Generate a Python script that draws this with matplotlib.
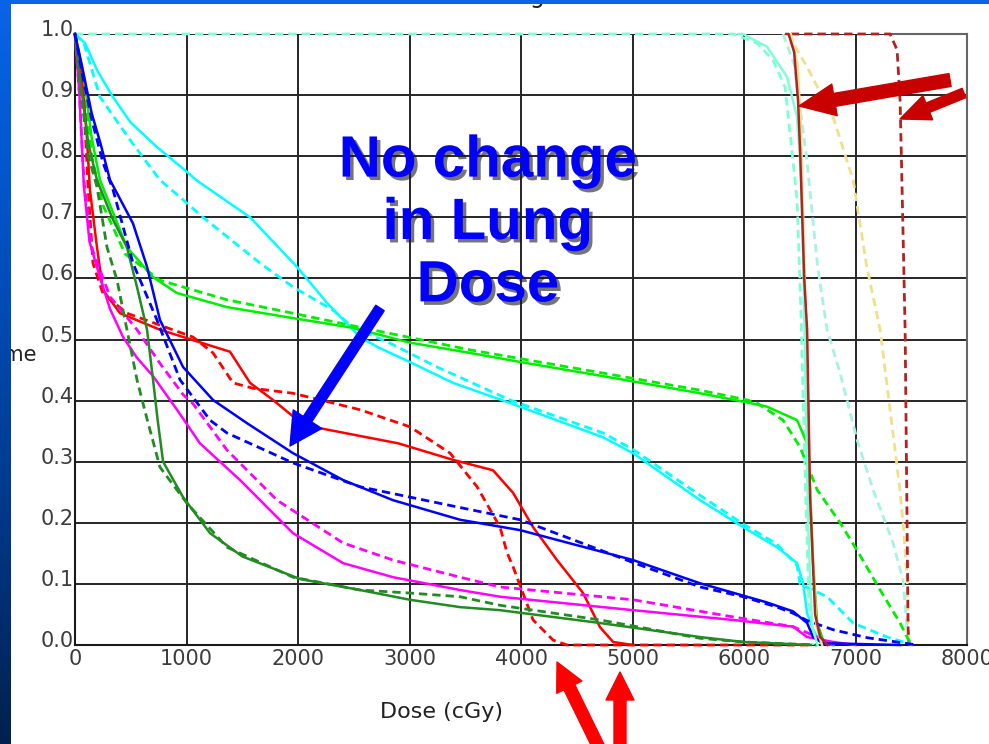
import numpy as np
import matplotlib
matplotlib.use("Agg")
import matplotlib.pyplot as plt
import matplotlib.patheffects as pe
from matplotlib.patches import Rectangle, FancyArrowPatch
from matplotlib.colors import LinearSegmentedColormap
from matplotlib.transforms import ScaledTranslation

W, H = 989, 744

# axes ticks
dose_ticks = [0, 1000, 2000, 3000, 4000, 5000, 6000, 7000, 8000]
vol_ticks = [0.0, 0.1, 0.2, 0.3, 0.4, 0.5, 0.6, 0.7, 0.8, 0.9, 1.0]
vol_labels = ["0.0", "0.1", "0.2", "0.3", "0.4", "0.5", "0.6", "0.7", "0.8", "0.9", "1.0"]

# cumulative DVH curves (dose in cGy, fractional volume); solid = plan 1, dashed = plan 2
cyan_solid_dose = [0, 90, 200, 340, 500, 735, 1000, 1094, 1570, 1990, 2260, 2556, 2709, 3005, 3391, 3902,
                   4736, 5005, 5606, 5992, 6297, 6476, 6530, 6566, 6620, 6683, 6800]
cyan_solid_vol = [1.0, 0.985, 0.94, 0.897, 0.855, 0.815, 0.775, 0.76, 0.70, 0.619, 0.56, 0.504, 0.488, 0.463,
                  0.429, 0.396, 0.34, 0.314, 0.237, 0.193, 0.16, 0.134, 0.101, 0.052, 0.025, 0.005, 0.0]
cyan_dash_dose = [0, 80, 224, 500, 762, 942, 1148, 1660, 1955, 2314, 2494, 2825, 3247, 3902, 4736, 5005,
                  5606, 5992, 6297, 6476, 6503, 6745, 6979, 7284, 7517]
cyan_dash_vol = [1.0, 0.985, 0.897, 0.825, 0.761, 0.733, 0.70, 0.625, 0.586, 0.548, 0.52, 0.494, 0.455,
                 0.401, 0.347, 0.32, 0.245, 0.198, 0.165, 0.13, 0.10, 0.079, 0.036, 0.013, 0.0]

lime_solid_dose = [0, 80, 150, 224, 466, 700, 915, 1363, 1955, 2494, 3000, 3543, 4000, 4736, 5606, 6028,
                   6207, 6476, 6566, 6593, 6620, 6656, 6710, 6800]
lime_solid_vol = [1.0, 0.93, 0.83, 0.761, 0.651, 0.602, 0.576, 0.553, 0.535, 0.519, 0.495, 0.478, 0.463,
                  0.44, 0.412, 0.397, 0.39, 0.368, 0.33, 0.254, 0.134, 0.036, 0.008, 0.0]
lime_dash_dose = [0, 80, 150, 250, 450, 762, 1363, 1955, 2556, 3543, 4736, 5606, 6028, 6117, 6350, 6503,
                  6656, 6862, 7014, 7221, 7400, 7463, 7500]
lime_dash_vol = [1.0, 0.92, 0.80, 0.72, 0.64, 0.597, 0.565, 0.543, 0.52, 0.483, 0.445, 0.417, 0.401, 0.396,
                 0.368, 0.324, 0.254, 0.2, 0.155, 0.09, 0.036, 0.013, 0.0]

blue_solid_dose = [0, 60, 150, 230, 314, 520, 646, 762, 969, 1238, 1543, 1955, 2404, 2852, 3453, 3992,
                   5005, 5606, 6200, 6440, 6566, 6620, 6710, 7400]
blue_solid_vol = [1.0, 0.95, 0.87, 0.82, 0.761, 0.69, 0.619, 0.532, 0.455, 0.401, 0.363, 0.314, 0.27,
                  0.237, 0.205, 0.188, 0.139, 0.101, 0.07, 0.055, 0.036, 0.013, 0.003, 0.0]
blue_dash_dose = [0, 60, 150, 250, 341, 520, 735, 942, 1211, 1363, 1955, 2556, 3005, 3453, 3992, 4500,
                  5005, 5606, 5992, 6297, 6440, 6566, 6799, 7104, 7552]
blue_dash_vol = [1.0, 0.94, 0.86, 0.79, 0.745, 0.625, 0.532, 0.434, 0.368, 0.347, 0.298, 0.259, 0.242,
                 0.225, 0.205, 0.17, 0.135, 0.095, 0.079, 0.062, 0.052, 0.04, 0.025, 0.012, 0.0]

red_solid_dose = [0, 60, 100, 134, 197, 251, 404, 762, 1058, 1390, 1570, 1776, 2050, 2900, 3391, 3749,
                  3929, 4108, 4323, 4557, 4709, 4826, 5000]
red_solid_vol = [1.0, 0.93, 0.85, 0.745, 0.651, 0.581, 0.543, 0.516, 0.499, 0.48, 0.429, 0.401, 0.36, 0.33,
                 0.303, 0.286, 0.249, 0.193, 0.139, 0.085, 0.029, 0.005, 0.0]
red_dash_dose = [0, 50, 90, 117, 161, 251, 466, 1058, 1238, 1417, 1600, 1955, 2314, 2556, 3005, 3364,
                 3606, 3812, 3875, 3929, 4108, 4288, 4413, 6600]
red_dash_vol = [1.0, 0.95, 0.85, 0.75, 0.625, 0.575, 0.543, 0.504, 0.478, 0.429, 0.42, 0.412, 0.396, 0.385,
                0.357, 0.314, 0.259, 0.193, 0.151, 0.128, 0.041, 0.008, 0.0, 0.0]

magenta_solid_dose = [0, 40, 80, 130, 224, 314, 431, 556, 700, 915, 1121, 1480, 1955, 2404, 2852, 3453,
                      3812, 5005, 5902, 6440, 6566, 6799, 7000]
magenta_solid_vol = [1.0, 0.9, 0.75, 0.66, 0.602, 0.55, 0.504, 0.47, 0.44, 0.385, 0.33, 0.27, 0.183, 0.134,
                     0.111, 0.09, 0.079, 0.057, 0.041, 0.03, 0.013, 0.005, 0.0]
magenta_dash_dose = [0, 40, 80, 150, 314, 556, 762, 969, 1058, 1363, 1812, 2404, 2852, 3453, 3812, 5005,
                     5902, 6440, 6656, 6800]
magenta_dash_vol = [1.0, 0.9, 0.76, 0.65, 0.57, 0.516, 0.461, 0.41, 0.395, 0.319, 0.237, 0.167, 0.139,
                    0.111, 0.095, 0.074, 0.046, 0.03, 0.013, 0.0]

forest_solid_dose = [0, 50, 120, 197, 341, 466, 556, 646, 700, 740, 790, 969, 1211, 1500, 2018, 2556,
                     3005, 3453, 3812, 4709, 5606, 5992, 6600]
forest_solid_vol = [1.0, 0.92, 0.82, 0.761, 0.696, 0.651, 0.586, 0.516, 0.434, 0.37, 0.30, 0.242, 0.183,
                    0.145, 0.108, 0.09, 0.074, 0.062, 0.057, 0.036, 0.013, 0.005, 0.0]
forest_dash_dose = [0, 50, 120, 197, 287, 377, 466, 556, 646, 762, 1004, 1363, 1955, 2556, 3005, 3453,
                    3812, 4709, 5606, 5992, 6656]
forest_dash_vol = [1.0, 0.91, 0.80, 0.75, 0.651, 0.597, 0.516, 0.434, 0.37, 0.291, 0.232, 0.16, 0.111,
                   0.09, 0.085, 0.079, 0.065, 0.041, 0.011, 0.005, 0.0]

# target structures: the 100 % plateau below ~6000 cGy is hidden under the aquamarine dashed curve,
# so these lists start where each curve becomes visible
aqua_dash_dose = [0, 5902, 6117, 6260, 6368, 6413, 6476, 6510, 6545, 6580, 6620]
aqua_dash_vol = [1.0, 1.0, 0.985, 0.957, 0.913, 0.838, 0.728, 0.55, 0.3, 0.08, 0.0]
aqua_solid_dose = [5950, 5992, 6207, 6386, 6476, 6503, 6521, 6545, 6575, 6610, 6660]
aqua_solid_vol = [1.0, 1.0, 0.979, 0.93, 0.864, 0.794, 0.728, 0.5, 0.2, 0.03, 0.0]
paleturq_dash_dose = [6350, 6450, 6560, 6660, 6745, 6862, 7014, 7158, 7337, 7427, 7463, 7490]
paleturq_dash_vol = [1.0, 0.95, 0.8, 0.62, 0.516, 0.445, 0.336, 0.254, 0.167, 0.106, 0.025, 0.0]

darkred_solid_dose = [6380, 6400, 6450, 6485, 6503, 6540, 6566, 6593, 6638, 6683, 6750]
darkred_solid_vol = [1.0, 1.0, 0.97, 0.89, 0.81, 0.6, 0.516, 0.24, 0.05, 0.013, 0.0]
darkred_dash_dose = [6420, 7310, 7373, 7400, 7418, 7445, 7463, 7472, 7480]
darkred_dash_vol = [1.0, 1.0, 0.974, 0.89, 0.745, 0.516, 0.19, 0.025, 0.0]

khaki_solid_dose = [6420, 6480, 6510, 6560, 6600, 6650, 6700]
khaki_solid_vol = [1.0, 0.95, 0.85, 0.5, 0.2, 0.03, 0.0]
khaki_dash_dose = [6400, 6476, 6566, 6799, 6979, 7100, 7221, 7355, 7400, 7427, 7463, 7472, 7490]
khaki_dash_vol = [1.0, 0.974, 0.946, 0.864, 0.761, 0.62, 0.516, 0.319, 0.25, 0.2, 0.106, 0.025, 0.0]

# drawing order, bottom to top: (dose, volume, colour, dashed?)
curves = [
    (paleturq_dash_dose, paleturq_dash_vol, "#a8f2e4", True),
    (khaki_dash_dose, khaki_dash_vol, "#f0e08c", True),
    (aqua_dash_dose, aqua_dash_vol, "#7fffd4", True),
    (darkred_dash_dose, darkred_dash_vol, "#b22222", True),
    (cyan_dash_dose, cyan_dash_vol, "#00ffff", True),
    (cyan_solid_dose, cyan_solid_vol, "#00ffff", False),
    (lime_dash_dose, lime_dash_vol, "#00ee00", True),
    (lime_solid_dose, lime_solid_vol, "#00ee00", False),
    (red_dash_dose, red_dash_vol, "#ff0000", True),
    (red_solid_dose, red_solid_vol, "#ff0000", False),
    (magenta_dash_dose, magenta_dash_vol, "#ff00ff", True),
    (magenta_solid_dose, magenta_solid_vol, "#ff00ff", False),
    (forest_dash_dose, forest_dash_vol, "#228b22", True),
    (forest_solid_dose, forest_solid_vol, "#228b22", False),
    (blue_dash_dose, blue_dash_vol, "#0000ff", True),
    (blue_solid_dose, blue_solid_vol, "#0000ff", False),
    (khaki_solid_dose, khaki_solid_vol, "#f0e08c", False),
    (aqua_solid_dose, aqua_solid_vol, "#7fffd4", False),
    (darkred_solid_dose, darkred_solid_vol, "#b22222", False),
]


def fig_frac(x, y):
    """Screen pixel (top-left origin) -> figure fraction."""
    return x / W, 1 - y / H


def add_arrow(fig, tail, tip, color, shaft, head_w, head_l):
    # sizes given in pixels, mutation scale is in points
    k = 0.72 / 10
    style = "simple,tail_width=%.3f,head_width=%.3f,head_length=%.3f" % (shaft * k, head_w * k, head_l * k)
    arr = FancyArrowPatch(fig_frac(*tail), fig_frac(*tip), arrowstyle=style, mutation_scale=10,
                          color=color, shrinkA=0, shrinkB=0, zorder=5)
    fig.add_artist(arr)


fig = plt.figure(figsize=(W / 100, H / 100), dpi=100)
fig.patch.set_facecolor("white")

ax = fig.add_axes([75 / W, (H - 645) / H, (967 - 75) / W, (645 - 34) / H])
ax.set_xlim(0, 8000)
ax.set_ylim(0, 1.0)

for dose, vol, color, dashed in curves:
    if dashed:
        ax.plot(dose, vol, color=color, lw=2.0, linestyle=(0, (3, 1.8)), clip_on=False, zorder=3)
    else:
        ax.plot(dose, vol, color=color, lw=1.8, clip_on=False, zorder=3)

ax.set_xticks(dose_ticks)
ax.set_xticklabels([str(d) for d in dose_ticks])
ax.set_yticks(vol_ticks)
ax.set_yticklabels(vol_labels)
ax.tick_params(length=0, labelsize=15, labelcolor="#3c3c3c")
ax.tick_params(axis="x", pad=3)
ax.tick_params(axis="y", pad=1)
shift = ScaledTranslation(0, -0.02, fig.dpi_scale_trans)
for lab in ax.get_yticklabels():
    lab.set_verticalalignment("baseline")
    lab.set_transform(lab.get_transform() + shift)

ax.grid(True, color="#262626", lw=1.4)
ax.set_axisbelow(True)
for side in ["left", "bottom"]:
    ax.spines[side].set_color("#1a1a1a")
    ax.spines[side].set_linewidth(1.5)
ax.spines["right"].set_color("#666666")
ax.spines["right"].set_linewidth(1.5)
# the top frame only shows where no curve sits on 1.0
ax.spines["top"].set_visible(False)
ax.axhline(1.0, xmin=darkred_dash_dose[1] / 8000, xmax=1, color="#666666", lw=1.5, zorder=1, clip_on=False)

# axis labels as in the screenshot (partly hidden by the slide border)
fig.text(*fig_frac(442, 712), "Dose (cGy)", ha="center", va="center", fontsize=16, color="#222222")
fig.text(*fig_frac(37, 355), "Volume", ha="right", va="center", fontsize=15, color="#222222")
fig.text(*fig_frac(592, 3), "Dose Volume Histogram", ha="right", va="baseline", fontsize=17,
         color="#222222")

# annotation
fig.text(*fig_frac(488, 224), "No change\nin Lung\nDose", ha="center", va="center",
         multialignment="center", fontsize=42, fontweight="bold", family="Liberation Sans",
         color="#0000ff", zorder=6,
         path_effects=[pe.withSimplePatchShadow(offset=(2.5, -2.5), shadow_rgbFace="#1a1a1a", alpha=0.6)])

add_arrow(fig, (380, 308), (290, 446), "#0000ff", 10, 34, 32)
add_arrow(fig, (950, 80), (799, 106), "#c80000", 13, 32, 36)
add_arrow(fig, (964, 93), (900, 119), "#c80000", 10, 26, 30)
add_arrow(fig, (605, 760), (557, 662), "#ff0000", 12, 28, 28)
add_arrow(fig, (620, 760), (620, 672), "#ff0000", 12, 28, 28)

# slide border: blue bar on top, gradient strip on the left
fig.add_artist(Rectangle((0, 1 - 4 / H), 1, 4 / H, transform=fig.transFigure,
                         facecolor="#0a64e8", edgecolor="none", zorder=10))
strip = fig.add_axes([0, 0, 11 / W, 1], zorder=10)
grad = np.linspace(0, 1, 256).reshape(-1, 1)
cmap = LinearSegmentedColormap.from_list("slide", ["#0a64e8", "#0050c0", "#003a8c", "#00214f"])
strip.imshow(grad, aspect="auto", cmap=cmap, extent=[0, 1, 0, 1], origin="upper")
strip.axis("off")

fig.savefig("out.png", dpi=100)
